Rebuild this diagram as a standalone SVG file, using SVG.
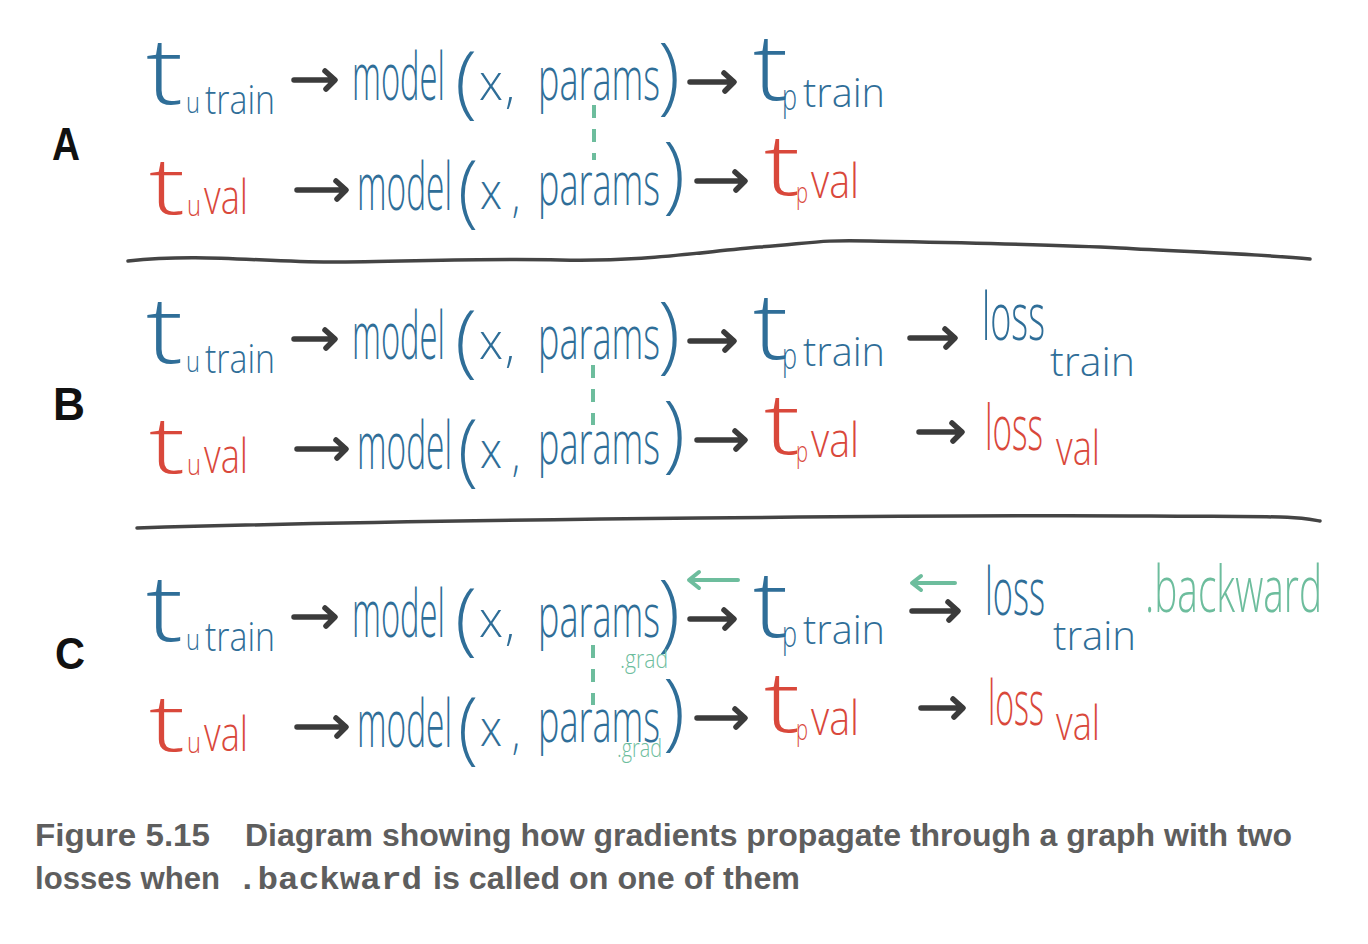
<svg xmlns="http://www.w3.org/2000/svg" width="1368" height="944" viewBox="0 0 1368 944">
<style>
.h{font-family:"Open Sans","DejaVu Sans",sans-serif;font-weight:300}
.b{fill:#2f6e98}.r{fill:#d9483b}.g{fill:#6dbd9d}
.ar{fill:none;stroke:#3b3b3b;stroke-width:5.5;stroke-linecap:round;stroke-linejoin:round}
.ga{fill:none;stroke:#6dbd9d;stroke-width:4;stroke-linecap:round;stroke-linejoin:round}
.dash{fill:none;stroke:#6dbd9d;stroke-width:4;stroke-dasharray:13 11}
.sep{fill:none;stroke:#444;stroke-width:3.5;stroke-linecap:round}
.lab{font-family:"Liberation Sans",Arial,sans-serif;font-weight:700;fill:#111}
.cap{font-family:"Liberation Sans",Arial,sans-serif;font-weight:700;fill:#5e5e5e;font-size:31px}
.mono{font-family:"Liberation Mono","Courier New",monospace;font-weight:700;fill:#5e5e5e;font-size:31px}
</style>
<defs>
<g id="row1">
<text class="h b" x="146" y="104" font-size="92" textLength="37" lengthAdjust="spacingAndGlyphs">t</text>
<text class="h b" x="186" y="113" font-size="30" textLength="14" lengthAdjust="spacingAndGlyphs">u</text>
<text class="h b" x="205" y="114" font-size="40" textLength="70" lengthAdjust="spacingAndGlyphs">train</text>
<path class="ar" d="M294,80 H334 M325,71 L335,80 L326,89"/>
<text class="h b" x="352" y="100" font-size="66" textLength="93" lengthAdjust="spacingAndGlyphs">model</text>
<text class="h b" x="455" y="108" font-size="80" textLength="22" lengthAdjust="spacingAndGlyphs">(</text>
<text class="h b" x="479" y="100" font-size="50" textLength="24" lengthAdjust="spacingAndGlyphs">x</text>
<text class="h b" x="505" y="103" font-size="50" textLength="10" lengthAdjust="spacingAndGlyphs">,</text>
<text class="h b" x="538" y="100" font-size="60" textLength="122" lengthAdjust="spacingAndGlyphs">params</text>
<text class="h b" x="658" y="104" font-size="84" textLength="22" lengthAdjust="spacingAndGlyphs">)</text>
<path class="ar" d="M690,82 H733 M724,73 L734,82 L725,91"/>
<text class="h b" x="753" y="100" font-size="92" textLength="35" lengthAdjust="spacingAndGlyphs">t</text>
<text class="h b" x="782" y="110" font-size="36" textLength="15" lengthAdjust="spacingAndGlyphs">p</text>
<text class="h b" x="803" y="107" font-size="40" textLength="82" lengthAdjust="spacingAndGlyphs">train</text>
</g>
<g id="row2">
<text class="h r" x="149" y="214" font-size="80" textLength="36" lengthAdjust="spacingAndGlyphs">t</text>
<text class="h r" x="187" y="216" font-size="30" textLength="14" lengthAdjust="spacingAndGlyphs">u</text>
<text class="h r" x="204" y="214" font-size="48" textLength="44" lengthAdjust="spacingAndGlyphs">val</text>
<path class="ar" d="M297,190 H345 M336,181 L346,190 L337,199"/>
<text class="h b" x="357" y="210" font-size="66" textLength="95" lengthAdjust="spacingAndGlyphs">model</text>
<text class="h b" x="458" y="217" font-size="80" textLength="20" lengthAdjust="spacingAndGlyphs">(</text>
<text class="h b" x="480" y="209" font-size="50" textLength="22" lengthAdjust="spacingAndGlyphs">x</text>
<text class="h b" x="512" y="212" font-size="46" textLength="8" lengthAdjust="spacingAndGlyphs">,</text>
<text class="h b" x="538" y="205" font-size="60" textLength="122" lengthAdjust="spacingAndGlyphs">params</text>
<text class="h b" x="663" y="203" font-size="84" textLength="22" lengthAdjust="spacingAndGlyphs">)</text>
<path class="ar" d="M697,181 H744 M735,172 L745,181 L736,190"/>
<text class="h r" x="764" y="195" font-size="84" textLength="36" lengthAdjust="spacingAndGlyphs">t</text>
<text class="h r" x="796" y="203" font-size="30" textLength="12" lengthAdjust="spacingAndGlyphs">p</text>
<text class="h r" x="811" y="198" font-size="48" textLength="48" lengthAdjust="spacingAndGlyphs">val</text>
</g>
</defs>
<rect x="0" y="0" width="1368" height="944" fill="#ffffff"/>

<g id="labels">
<text class="lab" x="52" y="160" font-size="46" textLength="28" lengthAdjust="spacingAndGlyphs">A</text>
<text class="lab" x="53" y="420" font-size="46" textLength="32" lengthAdjust="spacingAndGlyphs">B</text>
<text class="lab" x="55" y="669" font-size="44" textLength="30" lengthAdjust="spacingAndGlyphs">C</text>
</g>

<g id="separators">
<path class="sep" d="M128,261 C200,253 260,262 330,262 S480,258 560,260 S700,252 760,247 S820,240 870,241 S1050,244 1120,248 S1260,254 1310,259"/>
<path class="sep" d="M137,528 C300,523 500,520 700,518 S1000,515 1150,516 S1290,516 1320,521"/>
</g>

<g id="panelA">
<use href="#row1"/>
<use href="#row2"/>
<path class="dash" d="M594,105 V160"/>
</g>

<g id="panelB" transform="translate(0,259)">
<use href="#row1"/>
<use href="#row2"/>
<path class="dash" d="M593,106 V166"/>
</g>
<g id="panelB-loss">
<path class="ar" d="M910,338 H954 M945,329 L955,338 L946,347"/>
<text class="h b" transform="translate(982,340) scale(1,1.886)" x="0" y="0" font-size="35" textLength="63" lengthAdjust="spacingAndGlyphs">loss</text>
<text class="h b" x="1050" y="376" font-size="40" textLength="85" lengthAdjust="spacingAndGlyphs">train</text>
<path class="ar" d="M919,432 H961 M952,423 L962,432 L953,441"/>
<text class="h r" transform="translate(985,450) scale(1,1.94)" x="0" y="0" font-size="32" textLength="58" lengthAdjust="spacingAndGlyphs">loss</text>
<text class="h r" x="1056" y="465" font-size="48" textLength="44" lengthAdjust="spacingAndGlyphs">val</text>
</g>

<g id="panelC" transform="translate(0,537)">
<use href="#row1"/>
<use href="#row2"/>
<path class="dash" d="M593,108 V168"/>
</g>
<g id="panelC-loss">
<path class="ga" d="M738,580 H690 M699,572 L689,580 L699,588"/>
<path class="ar" d="M912,611 H957 M948,602 L958,611 L949,620"/>
<path class="ga" d="M955,583 H913 M921,576 L912,583 L921,590"/>
<text class="h b" transform="translate(985,615) scale(1,2)" x="0" y="0" font-size="33" textLength="60" lengthAdjust="spacingAndGlyphs">loss</text>
<text class="h b" x="1053" y="650" font-size="40" textLength="83" lengthAdjust="spacingAndGlyphs">train</text>
<text class="h g" transform="translate(1145,612) scale(1,1.78)" x="0" y="0" font-size="36" textLength="177" lengthAdjust="spacingAndGlyphs">.backward</text>
<text class="h g" x="620" y="668" font-size="26" textLength="48" lengthAdjust="spacingAndGlyphs">.grad</text>
<path class="ar" d="M921,708 H962 M953,699 L963,708 L954,717"/>
<text class="h r" transform="translate(988,725) scale(1,2)" x="0" y="0" font-size="31" textLength="56" lengthAdjust="spacingAndGlyphs">loss</text>
<text class="h r" x="1056" y="740" font-size="48" textLength="44" lengthAdjust="spacingAndGlyphs">val</text>
<text class="h g" x="617" y="757" font-size="26" textLength="45" lengthAdjust="spacingAndGlyphs">.grad</text>
</g>

<g id="caption">
<text class="cap" x="35" y="846" textLength="175" lengthAdjust="spacingAndGlyphs">Figure 5.15</text>
<text class="cap" x="245" y="846" textLength="1047" lengthAdjust="spacingAndGlyphs">Diagram showing how gradients propagate through a graph with two</text>
<text class="cap" x="35" y="889" textLength="185" lengthAdjust="spacingAndGlyphs">losses when</text>
<text class="mono" x="237" y="889" textLength="185" lengthAdjust="spacingAndGlyphs">.backward</text>
<text class="cap" x="433" y="889" textLength="367" lengthAdjust="spacingAndGlyphs">is called on one of them</text>
</g>
</svg>
